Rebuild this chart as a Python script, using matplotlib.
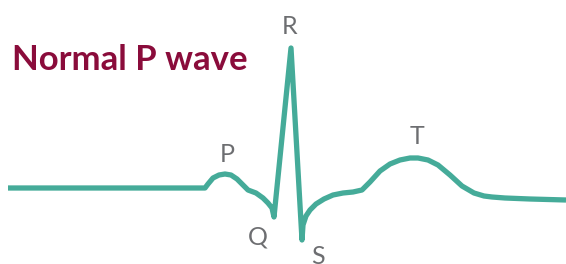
import matplotlib.pyplot as plt

# ECG trace in pixel units (x right, y down)
trace_x = [8, 205, 208, 213, 219, 225, 231, 237, 243, 248, 256, 263, 268, 272, 274,
           291, 302, 303, 306, 310, 316, 324, 333, 343, 353, 362, 370, 380, 390, 400,
           410, 418, 428, 438, 450, 462, 474, 484, 492, 505, 530, 566]
trace_y = [188, 188, 184, 178, 175, 174, 175, 179, 185, 190, 193, 198, 203, 208, 217,
           48, 240, 225, 216, 210, 204, 199, 195, 193, 192, 190, 182, 171, 164, 160,
           158, 158, 160, 165, 175, 186, 193, 196, 197, 198, 199, 200]

wave_labels = ['P', 'Q', 'R', 'S', 'T']
label_x = [227, 258, 290, 318, 417]
label_y = [155, 237, 27, 257, 137]

teal = '#45ab99'
grey = '#6d6e71'
maroon = '#8a0c3b'

fig = plt.figure(figsize=(5.66, 2.64), dpi=100)
ax = fig.add_axes([0, 0, 1, 1])
ax.set_xlim(0, 566)
ax.set_ylim(264, 0)
ax.axis('off')

ax.plot(trace_x, trace_y, color=teal, linewidth=3.8,
        solid_joinstyle='round', solid_capstyle='butt')

for lab, x, y in zip(wave_labels, label_x, label_y):
    ax.text(x, y, lab, color=grey, fontsize=18, fontfamily='Lato',
            fontweight='normal', ha='center', va='center')

ax.text(12, 60, 'Normal P wave', color=maroon, fontsize=25, fontfamily='Lato',
        fontweight='bold', ha='left', va='center')

fig.savefig('out.png', dpi=100, facecolor='white')
